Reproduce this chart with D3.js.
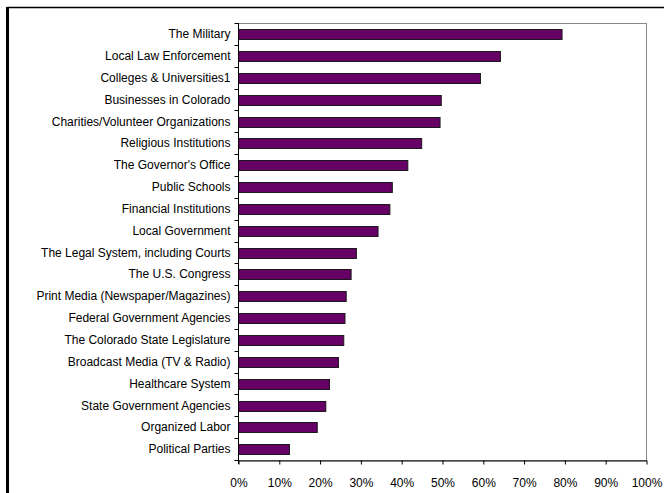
<!DOCTYPE html>
<html>
<head>
<meta charset="utf-8">
<script src="https://cdn.jsdelivr.net/npm/d3@7/dist/d3.min.js"></script>
<style>
  html, body { margin: 0; padding: 0; background: #fff; }
  svg { display: block; }
  text { font-family: "Liberation Sans", Arial, sans-serif; }
</style>
</head>
<body>
<svg id="chart" width="668" height="493"></svg>
<script>
const categories = [
  "The Military",
  "Local Law Enforcement",
  "Colleges & Universities1",
  "Businesses in Colorado",
  "Charities/Volunteer Organizations",
  "Religious Institutions",
  "The Governor's Office",
  "Public Schools",
  "Financial Institutions",
  "Local Government",
  "The Legal System, including Courts",
  "The U.S. Congress",
  "Print Media (Newspaper/Magazines)",
  "Federal Government Agencies",
  "The Colorado State Legislature",
  "Broadcast Media (TV & Radio)",
  "Healthcare System",
  "State Government Agencies",
  "Organized Labor",
  "Political Parties"
];
const values = [79.3, 64.2, 59.3, 49.7, 49.4, 44.9, 41.5, 37.7, 37.1, 34.2,
                28.9, 27.6, 26.4, 26.1, 25.8, 24.5, 22.3, 21.4, 19.3, 12.5];
const xTicks = [0, 10, 20, 30, 40, 50, 60, 70, 80, 90, 100];

const svg = d3.select("#chart");
const pL = 238, pR = 646, pT = 23, pB = 460;

// outer chart border fragments
svg.append("line").attr("x1", 7).attr("x2", 664).attr("y1", 7.5).attr("y2", 7.5)
  .attr("stroke", "#000").attr("stroke-width", 1.5);
svg.append("line").attr("x1", 7.5).attr("x2", 7.5).attr("y1", 7).attr("y2", 493)
  .attr("stroke", "#000").attr("stroke-width", 3);

const x = d3.scaleLinear().domain([0, 100]).range([pL, pR]);
const y = d3.scaleBand().domain(categories).range([pT, pB]).paddingInner(0.56).paddingOuter(0.28);
const yb = d3.scaleBand().domain(categories).range([pT, pB]);

// plot frame (gray)
svg.append("rect").attr("x", pL + 0.5).attr("y", pT + 0.5)
  .attr("width", pR - pL).attr("height", pB - pT)
  .attr("fill", "none").attr("stroke", "#888").attr("stroke-width", 1);

// bars
svg.append("g").selectAll("rect").data(categories).join("rect")
  .attr("x", x(0) + 0.5)
  .attr("y", d => Math.round(y(d)) + 0.5)
  .attr("width", (d, i) => x(values[i]) - x(0))
  .attr("height", Math.round(y.bandwidth()))
  .attr("fill", "#660066")
  .attr("stroke", "#1a1a1a").attr("stroke-width", 1);

// y axis
const yAxisG = svg.append("g").attr("transform", `translate(${pL + 0.5},0)`);
yAxisG.append("line").attr("x1", 0).attr("x2", 0).attr("y1", pT).attr("y2", pB + 4)
  .attr("stroke", "#000");
yAxisG.selectAll("line.tk").data(d3.range(categories.length + 1)).join("line")
  .attr("class", "tk")
  .attr("x1", -4).attr("x2", 0)
  .attr("y1", i => Math.round(pT + i * yb.step()) + 0.5)
  .attr("y2", i => Math.round(pT + i * yb.step()) + 0.5)
  .attr("stroke", "#000");
yAxisG.selectAll("text").data(categories).join("text")
  .attr("x", -8)
  .attr("y", d => yb(d) + yb.bandwidth() / 2)
  .attr("dy", "0.35em")
  .attr("text-anchor", "end")
  .attr("font-size", 12)
  .attr("fill", "#000")
  .text(d => d);

// x axis
const xAxis = d3.axisBottom(x).tickValues(xTicks).tickFormat(d => d + "%").tickSize(4).tickSizeOuter(0);
const xg = svg.append("g").attr("transform", `translate(0.5,${pB + 0.5})`).call(xAxis);
xg.select(".domain").attr("stroke", "#000");
xg.selectAll(".tick line").attr("stroke", "#000");
xg.selectAll(".tick text").attr("font-size", 12).attr("fill", "#000").attr("dy", 0).attr("y", 26)
  .attr("font-family", "Liberation Sans, Arial, sans-serif");
</script>
</body>
</html>
